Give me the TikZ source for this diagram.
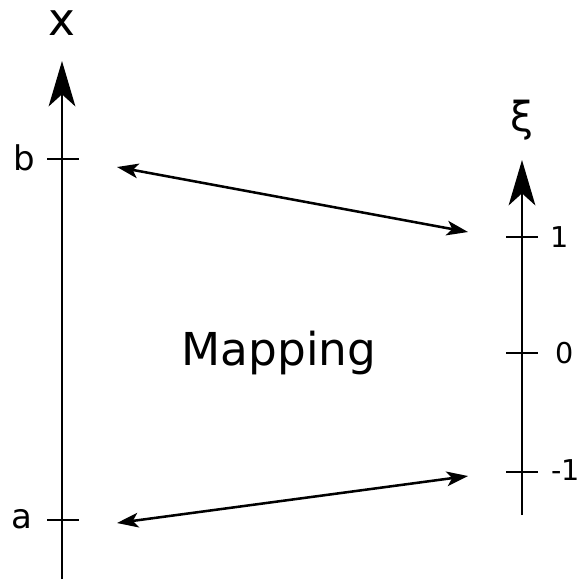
\documentclass[tikz,border=0pt]{standalone}
\usepackage{fontspec}
\setmainfont{DejaVu Sans}
\usetikzlibrary{arrows.meta}
\tikzset{
  axis/.style={line width=2pt, -{Stealth[length=34pt,width=20pt,inset=9pt]}},
  tick/.style={line width=2pt},
  maparrow/.style={line width=1.9pt, {Stealth[length=16pt,width=11pt,inset=4pt]}-{Stealth[length=16pt,width=11pt,inset=4pt]}},
  biglabel/.style={inner sep=0pt, font=\fontsize{34}{40}\selectfont},
  ticklabel/.style={inner sep=0pt, font=\fontsize{25.5}{30}\selectfont},
  numlabel/.style={inner sep=0pt, font=\fontsize{21.5}{26}\selectfont}
}
\begin{document}
\begin{tikzpicture}[x=0.75pt,y=-0.75pt]
\useasboundingbox (0,0) rectangle (581,579);
% left axis
\coordinate (xbot) at (62,579);
\coordinate (xtop) at (62,61);
\draw[axis] (xbot) -- (xtop);
\node[biglabel, anchor=base] (xlab) at (62,35) {x};
\coordinate (tb1) at (47,159); \coordinate (tb2) at (79,159);
\coordinate (ta1) at (47,520); \coordinate (ta2) at (79,520);
\draw[tick] (tb1) -- (tb2);
\draw[tick] (ta1) -- (ta2);
\node[ticklabel, anchor=base] (blab) at (24,170) {b};
\node[ticklabel, anchor=base] (alab) at (22,528) {a};
% right axis
\coordinate (xibot) at (522,515);
\coordinate (xitop) at (522,160);
\draw[axis] (xibot) -- (xitop);
\node[biglabel, font=\fontsize{31}{36}\selectfont, anchor=base] (xilab) at (522,131) {ξ};
\coordinate (t1a) at (506,237); \coordinate (t1b) at (538,237);
\coordinate (t0a) at (506,353); \coordinate (t0b) at (538,353);
\coordinate (tma) at (506,472); \coordinate (tmb) at (538,472);
\draw[tick] (t1a) -- (t1b);
\draw[tick] (t0a) -- (t0b);
\draw[tick] (tma) -- (tmb);
\node[numlabel, anchor=base west] (one) at (550,247) {1};
\node[numlabel, anchor=base west] (zero) at (555,363) {0};
\node[numlabel, anchor=base west] (mone) at (551,480) {-1};
% mapping
\node[biglabel, anchor=base] (map) at (279,365) {Mapping};
\coordinate (bL) at (117,167);
\coordinate (bR) at (468,232);
\coordinate (aL) at (117,523);
\coordinate (aR) at (468,476);
\draw[maparrow] (bL) -- (bR);
\draw[maparrow] (aL) -- (aR);
\end{tikzpicture}
\end{document}
